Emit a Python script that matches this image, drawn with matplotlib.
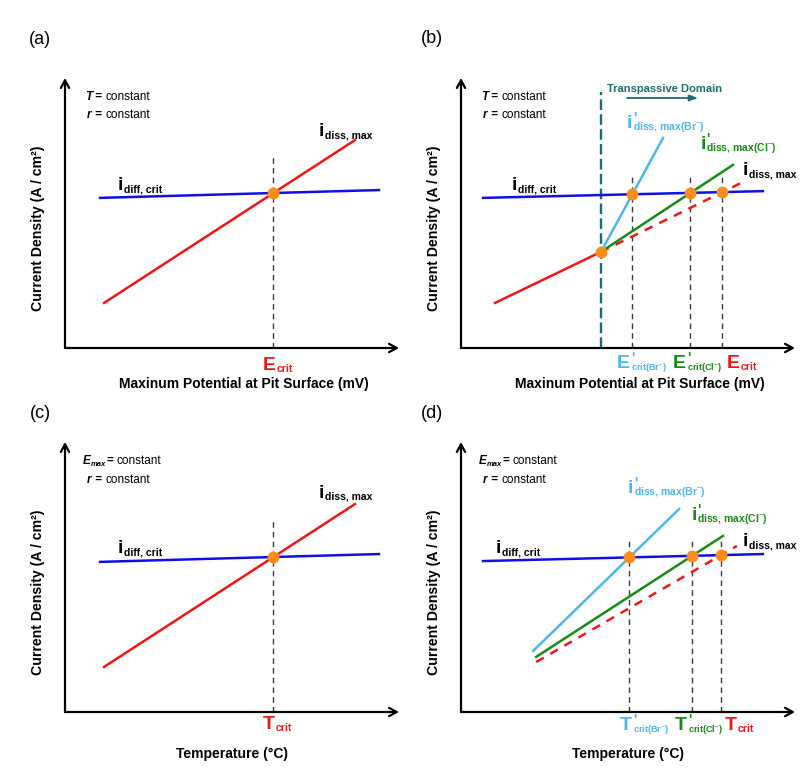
import numpy as np
import matplotlib
matplotlib.use("Agg")
import matplotlib.pyplot as plt

plt.rcParams['font.family'] = ['Liberation Sans', 'DejaVu Sans']
plt.rcParams['mathtext.fontset'] = 'custom'
plt.rcParams['mathtext.rm'] = 'Liberation Sans'
plt.rcParams['mathtext.it'] = 'Liberation Sans:italic'
plt.rcParams['mathtext.bf'] = 'Liberation Sans:bold'

# schematic values, axes run 0..10 in both directions
# (a) and (c): single dissolution line against the diffusion limit
diff_x = [1.05, 9.40]
diff_y = [5.56, 5.85]
diss_x = [1.17, 8.68]
diss_y = [1.67, 7.70]
crit_top = 7.1

# (b): halide lines start at the transpassive onset
b_diff_x = [0.66, 9.04]
b_diff_y = [5.56, 5.81]
b_diss_x = [1.02, 4.19, 8.56]
b_diss_y = [1.67, 3.56, 6.22]
b_br_x = [4.19, 6.05]
b_br_y = [3.56, 7.78]
b_cl_x = [4.19, 8.14]
b_cl_y = [3.56, 6.78]
b_crit_top = 6.48
trans_top = 9.48

# (d)
d_diff_x = [0.66, 9.04]
d_diff_y = [5.59, 5.85]
d_br_x = [2.16, 6.53]
d_br_y = [2.26, 7.52]
d_cl_x = [2.25, 7.84]
d_cl_y = [2.04, 6.52]
d_diss_x = [2.25, 8.26]
d_diss_y = [1.85, 6.15]
d_crit_top = 6.44

BLUE = '#1010E6'
RED = '#F21515'
GREEN = '#178A17'
LBLUE = '#4FB6EC'
ORANGE = '#FF8C1A'
TEAL = '#1E6C6C'
GREY = '#3A3A3A'

fig = plt.figure(figsize=(8.11, 7.74), dpi=100)
W, H = 811.0, 774.0


def make_axes(x0, y0):
    # x0, y0 = origin of the drawn axes (pixels), arrows 334 x 270 px
    ax = fig.add_axes([x0 / W, (H - y0) / H, 334 / W, 270 / H])
    ax.set_xlim(0, 10)
    ax.set_ylim(0, 10)
    ax.axis('off')
    arrow = dict(arrowstyle='->,head_length=0.55,head_width=0.3', lw=1.6,
                 color='black', shrinkA=0, shrinkB=0)
    ax.annotate('', xy=(10, 0), xytext=(0, 0), arrowprops=arrow, annotation_clip=False)
    ax.annotate('', xy=(0, 10), xytext=(0, 0), arrowprops=arrow, annotation_clip=False)
    ax.text(-0.81, 4.44, 'Current Density (A / cm²)', rotation=90, ha='center',
            va='center', fontsize=10.2, fontweight='bold')
    return ax


def cross(xa, ya, xb, yb):
    # intersection of two straight lines given by their end points
    ma = (ya[-1] - ya[0]) / (xa[-1] - xa[0])
    mb = (yb[-1] - yb[0]) / (xb[-1] - xb[0])
    x = (yb[0] - ya[0] + ma * xa[0] - mb * xb[0]) / (ma - mb)
    return x, ya[0] + ma * (x - xa[0])


def rich(ax, x, y, parts, color='black'):
    r = fig.canvas.get_renderer()
    dx = 0.0
    for p in parts:
        t = ax.annotate(p['s'], xy=(x, y), xytext=(dx + p.get('dx', 0), p.get('dy', 0)),
                        textcoords='offset points', fontsize=p.get('size', 8.5),
                        fontweight=p.get('weight', 'bold'), fontstyle=p.get('style', 'normal'),
                        color=p.get('color', color), ha='left', va='baseline',
                        annotation_clip=False)
        if p.get('advance', True):
            dx += t.get_window_extent(r).width * 72 / fig.dpi + p.get('dx', 0)


def sub_label(ax, x, y, main, sub, color='black', prime=False, size=14, sub_size=7.5):
    parts = [dict(s=main, size=size)]
    if prime:
        parts.append(dict(s="'", size=10, dy=4.5, dx=0.6, advance=False))
    parts.append(dict(s=sub, size=sub_size, dy=-1.5, dx=0.5))
    rich(ax, x, y, parts, color)


def conditions(ax, emax=False):
    if emax:
        rich(ax, 0.54, 9.19, [dict(s='E', style='italic'),
                              dict(s='max', size=5.5, style='italic', dy=-1.5),
                              dict(s='= ', dx=0.3), dict(s='constant', weight='normal')])
    else:
        rich(ax, 0.60, 9.19, [dict(s='T', style='italic'), dict(s=' = '),
                              dict(s='constant', weight='normal')])
    rich(ax, 0.66, 8.48 if emax else 8.52,
         [dict(s='r', style='italic'), dict(s=' = '), dict(s='constant', weight='normal')])


def vline(ax, x, top):
    ax.plot([x, x], [0, top], color=GREY, lw=1.0, ls=(0, (4, 3)), zorder=1)


def dot(ax, x, y):
    ax.plot(x, y, 'o', color=ORANGE, ms=7.5, mec=ORANGE, zorder=5)


# ---------------- (a) and (c) ----------------
for x0, y0, emax, letter, crit, xlab, xlab_x, xlab_y, ydiss, ydiff, ycrit, let_y in [
        (65, 348, False, '(a)', 'E', 'Maxinum Potential at Pit Surface (mV)', 5.36, -1.48,
         7.85, 5.85, -0.81, 11.41),
        (65, 712, True, '(c)', 'T', 'Temperature (°C)', 5.0, -1.70,
         7.93, 5.89, -0.63, 11.07)]:
    ax = make_axes(x0, y0)
    xc, yc = cross(diff_x, diff_y, diss_x, diss_y)
    vline(ax, xc, crit_top)
    ax.plot(diff_x, diff_y, color=BLUE, lw=1.8, zorder=3)
    ax.plot(diss_x, diss_y, color=RED, lw=1.8, zorder=3)
    dot(ax, xc, yc)
    conditions(ax, emax)
    sub_label(ax, 7.60, ydiss, 'i', 'diss, max')
    sub_label(ax, 1.59, ydiff, 'i', 'diff, crit')
    sub_label(ax, 5.93, ycrit, crit, 'crit', color=RED)
    ax.text(xlab_x, xlab_y, xlab, ha='center', va='baseline', fontsize=10, fontweight='bold')
    ax.text(-0.75, let_y, letter, ha='center', va='center', fontsize=13)

# ---------------- (b) ----------------
ax = make_axes(461, 348)
onset = (b_diss_x[1], b_diss_y[1])
ax.plot([onset[0], onset[0]], [0, trans_top], color=TEAL, lw=1.7, ls=(0, (4.5, 1.8)), zorder=2)
ax.text(4.37, 9.48, 'Transpassive Domain', color=TEAL, fontsize=8, fontweight='bold',
        ha='left', va='baseline')
ax.annotate('', xy=(7.10, 9.26), xytext=(4.97, 9.26),
            arrowprops=dict(arrowstyle='-|>,head_length=0.5,head_width=0.18', lw=1.3,
                            color=TEAL, shrinkA=0, shrinkB=0))
pts = [cross(b_diff_x, b_diff_y, lx, ly) for lx, ly in
       [(b_br_x, b_br_y), (b_cl_x, b_cl_y), (b_diss_x, b_diss_y)]]
for px, py in pts:
    vline(ax, px, b_crit_top)
ax.plot(b_diff_x, b_diff_y, color=BLUE, lw=1.8, zorder=3)
ax.plot(b_diss_x[:2], b_diss_y[:2], color=RED, lw=1.8, zorder=3)
ax.plot(b_diss_x[1:], b_diss_y[1:], color=RED, lw=1.8, ls=(0, (3.5, 3)), zorder=3)
ax.plot(b_cl_x, b_cl_y, color=GREEN, lw=1.8, zorder=3)
ax.plot(b_br_x, b_br_y, color=LBLUE, lw=1.8, zorder=3)
for px, py in pts + [onset]:
    dot(ax, px, py)
conditions(ax)
sub_label(ax, 4.97, 8.15, 'i', 'diss, max(Br$^{-}$)', color=LBLUE, prime=True)
sub_label(ax, 7.16, 7.37, 'i', 'diss, max(Cl$^{-}$)', color=GREEN, prime=True)
sub_label(ax, 8.44, 6.41, 'i', 'diss, max')
sub_label(ax, 1.53, 5.85, 'i', 'diff, crit')
sub_label(ax, 4.67, -0.74, 'E', 'crit(Br$^{-}$)', color=LBLUE, prime=True, sub_size=6.6)
sub_label(ax, 6.35, -0.74, 'E', 'crit(Cl$^{-}$)', color=GREEN, prime=True, sub_size=6.6)
sub_label(ax, 7.96, -0.74, 'E', 'crit', color=RED)
ax.text(5.36, -1.48, 'Maxinum Potential at Pit Surface (mV)', ha='center', va='baseline',
        fontsize=10, fontweight='bold')
ax.text(-0.87, 11.48, '(b)', ha='center', va='center', fontsize=13)

# ---------------- (d) ----------------
ax = make_axes(461, 712)
pts = [cross(d_diff_x, d_diff_y, lx, ly) for lx, ly in
       [(d_br_x, d_br_y), (d_cl_x, d_cl_y), (d_diss_x, d_diss_y)]]
for px, py in pts:
    vline(ax, px, d_crit_top)
ax.plot(d_diff_x, d_diff_y, color=BLUE, lw=1.8, zorder=3)
ax.plot(d_diss_x, d_diss_y, color=RED, lw=1.8, ls=(0, (3.5, 3)), zorder=3)
ax.plot(d_cl_x, d_cl_y, color=GREEN, lw=1.8, zorder=3)
ax.plot(d_br_x, d_br_y, color=LBLUE, lw=1.8, zorder=3)
for px, py in pts:
    dot(ax, px, py)
conditions(ax, emax=True)
sub_label(ax, 5.0, 8.11, 'i', 'diss, max(Br$^{-}$)', color=LBLUE, prime=True)
sub_label(ax, 6.89, 7.11, 'i', 'diss, max(Cl$^{-}$)', color=GREEN, prime=True)
sub_label(ax, 8.44, 6.15, 'i', 'diss, max')
sub_label(ax, 1.05, 5.89, 'i', 'diff, crit')
sub_label(ax, 4.76, -0.67, 'T', 'crit(Br$^{-}$)', color=LBLUE, prime=True, sub_size=6.6)
sub_label(ax, 6.41, -0.67, 'T', 'crit(Cl$^{-}$)', color=GREEN, prime=True, sub_size=6.6)
sub_label(ax, 7.90, -0.67, 'T', 'crit', color=RED)
ax.text(5.0, -1.70, 'Temperature (°C)', ha='center', va='baseline',
        fontsize=10, fontweight='bold')
ax.text(-0.87, 11.07, '(d)', ha='center', va='center', fontsize=13)

fig.savefig('out.png', dpi=100)
